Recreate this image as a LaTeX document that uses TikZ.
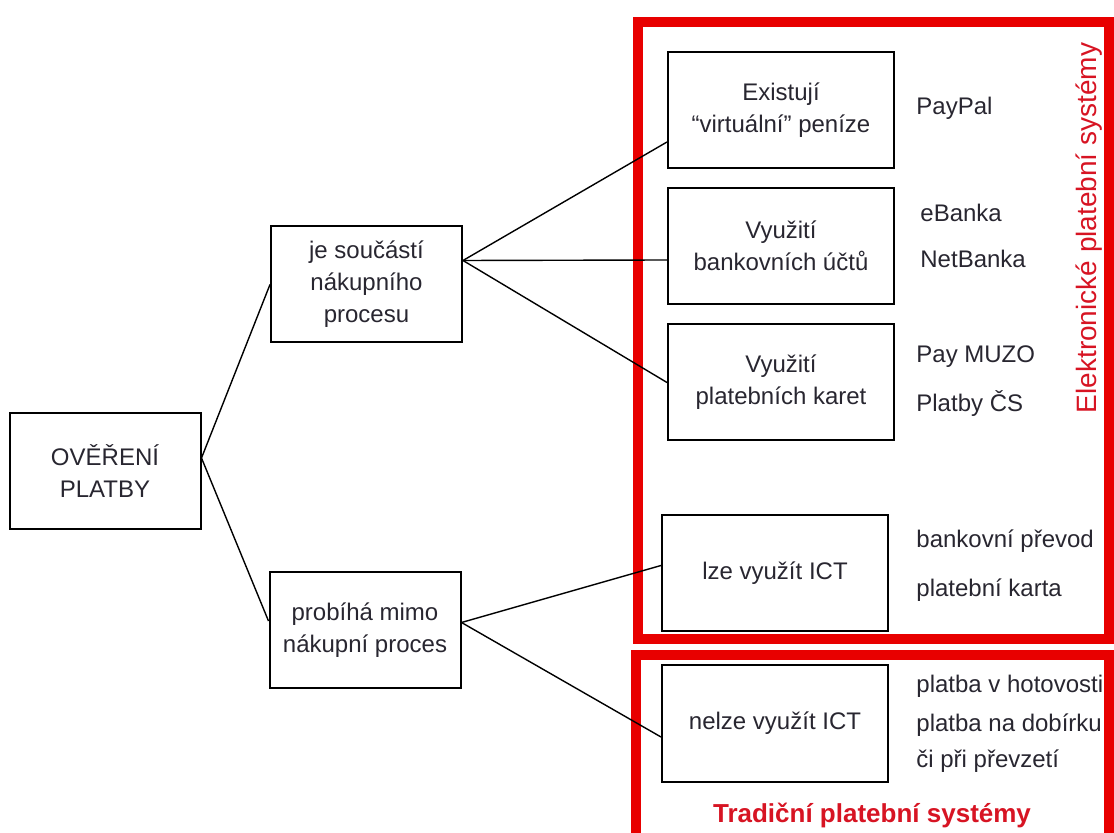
\documentclass[tikz,border=0pt]{standalone}
\usepackage{fontspec}
\setmainfont{Liberation Sans}
\usetikzlibrary{positioning}
\definecolor{framered}{RGB}{232,0,0}
\definecolor{labelred}{RGB}{215,20,35}
\definecolor{ink}{RGB}{40,38,48}

\tikzset{
  box/.style={draw=black, line width=1pt, minimum width=95.5pt, minimum height=58pt,
    inner sep=0pt, align=center, text=ink, font=\fontsize{12}{16}\selectfont},
  widebox/.style={box, minimum width=113pt},
  item/.style={anchor=base west, inner sep=0pt, text=ink, font=\fontsize{12}{16}\selectfont},
  link/.style={line width=0.7pt},
  frame/.style={draw=framered, line width=5pt},
}

\begin{document}
\begin{tikzpicture}[x=0.5pt,y=-0.5pt]
        \useasboundingbox (0,0) rectangle (1114,833);
        % red frames
        \draw[frame] (638,22) rectangle (1109,639);
        \draw[frame] (636,655) rectangle (1109,850);

        \node[box] (root) at (105,471) {OVĚŘENÍ\\PLATBY};
        \node[box] (part) at (366.5,284.5) {je součástí\\nákupního\\procesu};
        \node[box] (outside) at (365,630.5) {probíhá mimo\\nákupní proces};
        \node[widebox] (virtual) at (781,110) {Existují\\``virtuální'' peníze};
        \node[widebox] (accounts) at (781,246) {Využití\\bankovních účtů};
        \node[widebox] (cards) at (781,382.5) {Využití\\platebních karet};
        \node[widebox] (ict) at (775,573.5) {lze využít ICT};
        \node[widebox] (noict) at (775,723.5) {nelze využít ICT};

        \node[item] (paypal) at (916,115) {PayPal};
        \node[item] (ebanka) at (920,222) {eBanka};
        \node[item] (netbanka) at (920,268) {NetBanka};
        \node[item] (muzo) at (916,363) {Pay MUZO};
        \node[item] (cs) at (916,412) {Platby ČS};
        \node[item] (transfer) at (916,548) {bankovní převod};
        \node[item] (card) at (916,597) {platební karta};
        \node[item] (cash) at (916,693) {platba v hotovosti};
        \node[item] (cod) at (916,732) {platba na dobírku};
        \node[item] (pickup) at (916,767) {či při převzetí};

        \node[rotate=90, text=labelred, font=\fontsize{14}{16}\selectfont] (elabel) at (1089,228) {Elektronické platební systémy};
        \node[anchor=base, text=labelred, font=\bfseries\fontsize{13}{16}\selectfont] (tlabel) at (872,822) {Tradiční platební systémy};

        \path[link]
            ([yshift=6.5pt]root.east) edge (part.west)
            ([yshift=6.5pt]root.east) edge ([yshift=4.75pt]outside.west)
            ([yshift=12pt]part.east) edge ([yshift=-16pt]virtual.west)
            ([yshift=12pt]part.east) edge ([yshift=-7pt]accounts.west)
            ([yshift=12pt]part.east) edge (cards.west)
            ([yshift=4pt]outside.east) edge ([yshift=4pt]ict.west)
            ([yshift=4pt]outside.east) edge ([yshift=-6.75pt]noict.west);
    \end{tikzpicture}
\end{document}
